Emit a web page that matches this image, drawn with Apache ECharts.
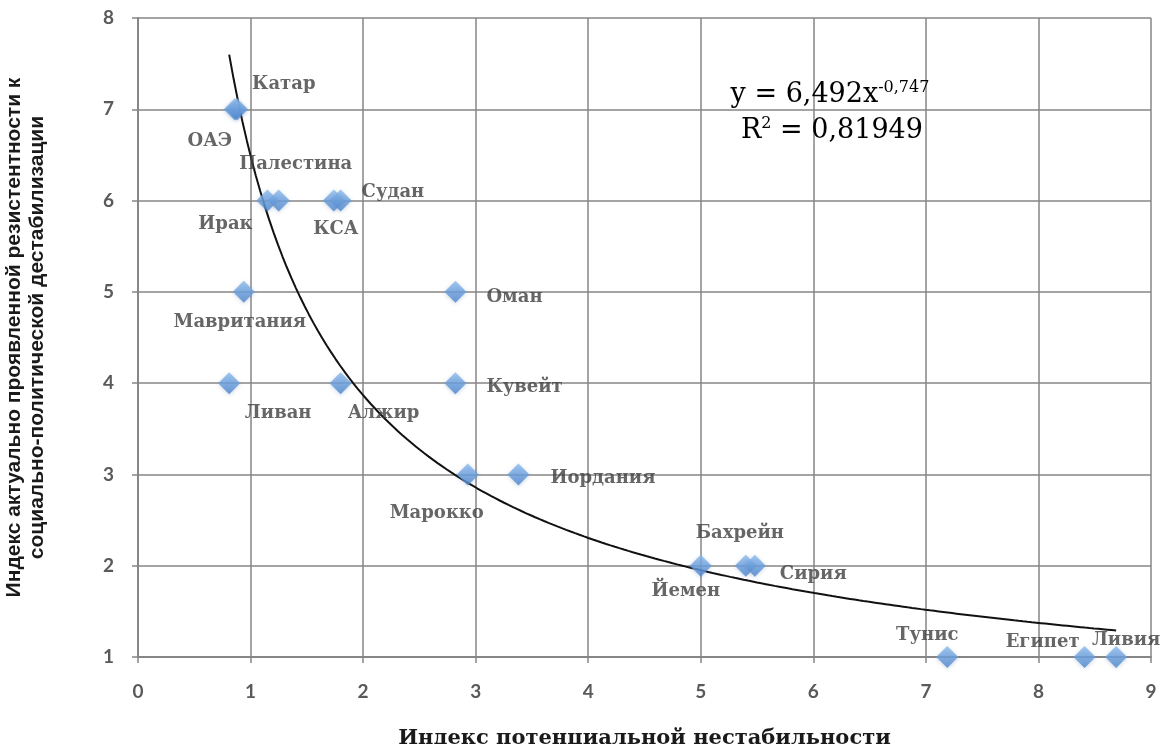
<!DOCTYPE html>
<html>
<head>
<meta charset="utf-8">
<title>Индекс потенциальной нестабильности</title>
<script src="https://cdn.jsdelivr.net/npm/echarts@6/dist/echarts.min.js"></script>
<style>
    html, body {
        margin: 0;
        padding: 0;
        background: #ffffff;
    }
    #main {
        width: 1166px;
        height: 744px;
    }
</style>
</head>
<body>
<div id="main"></div>
<script>
// данные по странам
var countries = ['Катар', 'ОАЭ', 'Палестина', 'Ирак', 'Судан', 'КСА', 'Оман', 'Мавритания', 'Кувейт',
    'Ливан', 'Алжир', 'Иордания', 'Марокко', 'Бахрейн', 'Сирия', 'Йемен', 'Тунис', 'Египет', 'Ливия'];
var instability = [0.88, 0.86, 1.25, 1.15, 1.80, 1.74, 2.82, 0.94, 2.82,
    0.81, 1.80, 3.38, 2.93, 5.40, 5.48, 5.00, 7.19, 8.41, 8.69];
var resistance = [7, 7, 6, 6, 6, 6, 5, 5, 4,
    4, 4, 3, 3, 2, 2, 2, 1, 1, 1];

// степенная линия тренда, как подписано на графике
var trendA = 6.492;
var trendB = -0.747;
var trendText = ['y = 6,492x', '-0,747', 'R', '2', ' = 0,81949'];

var xTicks = [0, 1, 2, 3, 4, 5, 6, 7, 8, 9];
var yTicks = [1, 2, 3, 4, 5, 6, 7, 8];

// где стоят подписи точек: [выравнивание, dx, dy]
var labelLayout = {
    'Катар': ['left', 15, -25],
    'ОАЭ': ['center', -25, 32],
    'Палестина': ['center', 17, -36],
    'Ирак': ['center', -42, 24],
    'Судан': ['left', 21, -8],
    'КСА': ['center', 2, 29],
    'Оман': ['left', 31, 5],
    'Мавритания': ['center', -4, 30],
    'Кувейт': ['left', 31, 4],
    'Ливан': ['center', 49, 30],
    'Алжир': ['center', 43, 30],
    'Иордания': ['left', 32, 4],
    'Марокко': ['center', -31, 39],
    'Бахрейн': ['center', -6, -32],
    'Сирия': ['left', 25, 9],
    'Йемен': ['center', -15, 26],
    'Тунис': ['center', -20, -22],
    'Египет': ['center', -42, -15],
    'Ливия': ['center', 10, -17]
};

var points = countries.map(function (name, i) {
    var l = labelLayout[name];
    return {
        name: name,
        value: [instability[i], resistance[i]],
        label: {align: l[0], offset: [l[1], l[2]]}
    };
});

// линия тренда по формуле с графика, от min до max x
var xMin = Math.min.apply(null, instability);
var xMax = Math.max.apply(null, instability);
var trend = [];
for (var k = 0; k <= 200; k++) {
    var x = xMin + (xMax - xMin) * k / 200;
    trend.push([x, trendA * Math.pow(x, trendB)]);
}

var myChart = echarts.init(document.getElementById('main'));

var gridColor = '#868686';

var option = {
    backgroundColor: '#ffffff',
    animation: false,
    grid: {
        left: 138,
        right: 15,
        top: 18,
        bottom: 87,
        containLabel: false,
        outerBoundsMode: 'none'
    },
    xAxis: {
        type: 'value',
        min: xTicks[0],
        max: xTicks[xTicks.length - 1],
        interval: 1,
        name: 'Индекс потенциальной нестабильности',
        nameLocation: 'middle',
        nameGap: 71,
        nameTextStyle: {
            fontFamily: 'DejaVu Serif',
            fontWeight: 'bold',
            fontSize: 21,
            color: '#1a1a1a'
        },
        axisLine: {show: true, lineStyle: {color: gridColor, width: 2}},
        axisTick: {show: true, length: 6, lineStyle: {color: gridColor, width: 1.5}},
        splitLine: {show: true, lineStyle: {color: gridColor, width: 1.5}},
        axisLabel: {
            margin: 25,
            fontFamily: 'Lato',
            fontWeight: 'bold',
            fontSize: 19,
            color: '#5a5a5a'
        }
    },
    yAxis: {
        type: 'value',
        min: yTicks[0],
        max: yTicks[yTicks.length - 1],
        interval: 1,
        name: 'Индекс актуально проявленной резистентности к\nсоциально-политической дестабилизации',
        nameLocation: 'middle',
        nameRotate: 90,
        nameGap: 89,
        nameTextStyle: {
            fontFamily: "'Liberation Sans', sans-serif",
            fontWeight: 'bold',
            fontSize: 21,
            lineHeight: 23,
            color: '#1a1a1a'
        },
        axisLine: {show: true, lineStyle: {color: gridColor, width: 2}},
        axisTick: {show: true, length: 6, lineStyle: {color: gridColor, width: 1.5}},
        splitLine: {show: true, lineStyle: {color: gridColor, width: 1.5}},
        axisLabel: {
            margin: 24,
            fontFamily: 'Lato',
            fontWeight: 'bold',
            fontSize: 19,
            color: '#5a5a5a'
        }
    },
    graphic: [
        {
            type: 'text',
            x: 830,
            y: 92,
            z: 100,
            style: {
                text: '{m|' + trendText[0] + '}{s|' + trendText[1] + '}',
                align: 'center',
                verticalAlign: 'middle',
                rich: {
                    m: {fontFamily: 'DejaVu Serif', fontSize: 27, color: '#222', lineHeight: 32, verticalAlign: 'bottom'},
                    s: {fontFamily: 'DejaVu Serif', fontSize: 16, color: '#222', verticalAlign: 'top', padding: [4, 0, 0, 0]}
                }
            }
        },
        {
            type: 'text',
            x: 832,
            y: 128,
            z: 100,
            style: {
                text: '{m|' + trendText[2] + '}{s|' + trendText[3] + '}{m|' + trendText[4] + '}',
                align: 'center',
                verticalAlign: 'middle',
                rich: {
                    m: {fontFamily: 'DejaVu Serif', fontSize: 27, color: '#222', lineHeight: 32, verticalAlign: 'bottom'},
                    s: {fontFamily: 'DejaVu Serif', fontSize: 16, color: '#222', verticalAlign: 'top', padding: [4, 0, 0, 0]}
                }
            }
        }
    ],
    series: [
        {
            name: 'Тренд',
            type: 'line',
            data: trend,
            showSymbol: false,
            smooth: false,
            z: 3,
            lineStyle: {color: '#111', width: 2}
        },
        {
            name: 'Страны',
            type: 'scatter',
            symbol: 'diamond',
            symbolSize: 22,
            z: 4,
            data: points,
            itemStyle: {
                color: new echarts.graphic.LinearGradient(0, 0, 0, 1, [
                    {offset: 0, color: '#8dbcee'},
                    {offset: 1, color: '#4a84cc'}
                ]),
                shadowColor: 'rgba(80, 110, 160, 0.35)',
                shadowBlur: 4,
                shadowOffsetY: 1
            },
            label: {
                show: true,
                position: 'inside',
                formatter: '{b}',
                fontFamily: 'DejaVu Serif',
                fontWeight: 'bold',
                fontSize: 18,
                color: '#404040',
                verticalAlign: 'middle'
            }
        }
    ]
};

myChart.setOption(option);
window.addEventListener('resize', function () {
    myChart.resize();
});
</script>
</body>
</html>
